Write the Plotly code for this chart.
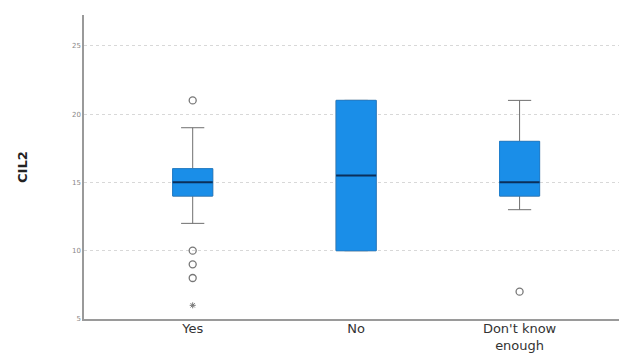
import plotly.graph_objects as go

categories = ["Yes", "No", "Don't know<br>enough"]
q1 = [14, 10, 14]
median = [15, 15.5, 15]
q3 = [16, 21, 18]
lower_whisker = [12, 10, 13]
upper_whisker = [19, 21, 21]

outlier_cat = ["Yes", "Yes", "Yes", "Yes", "Don't know<br>enough"]
outlier_val = [21, 10, 9, 8, 7]
extreme_cat = ["Yes"]
extreme_val = [6]

y_ticks = [5, 10, 15, 20, 25]

# page body has an 8px margin, so the figure is sized to fit the window
W, H = 619, 348
L, R, T, B = 76, 2, 7, 37

BLUE = "#1a8ee8"
fig = go.Figure()
fig.add_trace(go.Box(x=categories, q1=q1, median=median, q3=q3,
                     lowerfence=lower_whisker, upperfence=upper_whisker,
                     fillcolor=BLUE, line=dict(color="#6f6f6f", width=1),
                     width=0.245, whiskerwidth=0.58, boxpoints=False,
                     showlegend=False, hoverinfo="skip"))
fig.add_trace(go.Box(x=categories, q1=q1, median=median, q3=q3,
                     lowerfence=q1, upperfence=q3,
                     fillcolor=BLUE, line=dict(color="#1f80d0", width=1),
                     width=0.245, whiskerwidth=0, boxpoints=False,
                     showlegend=False, hoverinfo="skip"))
fig.add_trace(go.Box(x=categories, q1=median, median=median, q3=median,
                     lowerfence=median, upperfence=median,
                     fillcolor="rgba(0,0,0,0)", line=dict(color="#0b2f5a", width=2),
                     width=0.245, whiskerwidth=0, boxpoints=False,
                     showlegend=False, hoverinfo="skip"))
fig.add_trace(go.Scatter(x=outlier_cat, y=outlier_val, mode="markers",
                         marker=dict(symbol="circle-open", size=7, color="#777777",
                                     line=dict(width=1.3, color="#777777")),
                         showlegend=False, hoverinfo="skip"))
fig.add_trace(go.Scatter(x=extreme_cat, y=extreme_val, mode="markers",
                         marker=dict(symbol="asterisk-open", size=5, color="#777777",
                                     line=dict(width=1, color="#777777")),
                         showlegend=False, hoverinfo="skip"))

fig.update_layout(
    width=W, height=H,
    margin=dict(l=L, r=R, t=T, b=B),
    plot_bgcolor="white", paper_bgcolor="white",
    boxmode="overlay",
    font=dict(family="DejaVu Sans", color="#333333"),
    xaxis=dict(type="category", categoryorder="array", categoryarray=categories,
               range=[-0.665, 2.645], showgrid=False, showline=True,
               linecolor="#9a9a9a", linewidth=1.5, ticks="", automargin=False,
               ticklabelstandoff=-3,
               tickfont=dict(size=13, color="#333333"), zeroline=False),
    yaxis=dict(range=[5, 27.25], tickvals=y_ticks, showgrid=True,
               gridcolor="#d8d8d8", griddash="dot", gridwidth=1, automargin=False,
               showline=True, linecolor="#9a9a9a", linewidth=1.5, ticks="",
               tickfont=dict(size=7, color="#888888"), zeroline=False),
    annotations=[dict(text="<b>CIL2</b>",
                      x=(14 - L) / (W - L - R), y=(H - B - 159) / (H - T - B),
                      xref="paper", yref="paper", xanchor="center", yanchor="middle",
                      showarrow=False, textangle=-90,
                      font=dict(size=13, color="#222222"))],
)

fig.write_html("out.html")
